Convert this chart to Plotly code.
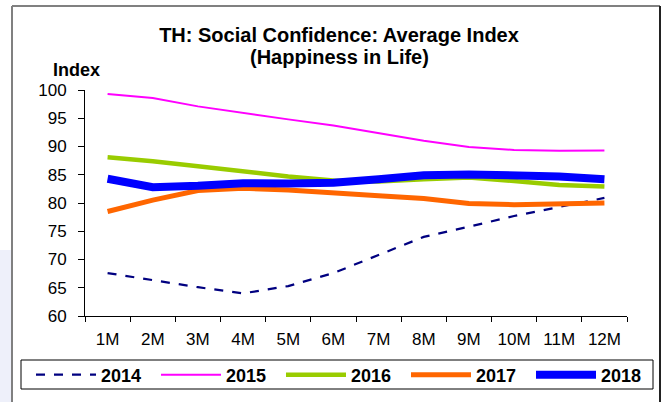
import plotly.graph_objects as go

W, H = 667, 402
L, R, T, B = 85, 40, 90, 86
PW, PH = W - L - R, H - T - B

months = ["1M", "2M", "3M", "4M", "5M", "6M", "7M", "8M", "9M", "10M", "11M", "12M"]
y2014 = [67.6, 66.3, 65.1, 64.0, 65.3, 67.6, 70.8, 74.0, 75.8, 77.7, 79.3, 80.9]
y2015 = [99.3, 98.6, 97.1, 95.9, 94.8, 93.7, 92.4, 91.0, 89.9, 89.4, 89.25, 89.3]
y2016 = [88.1, 87.4, 86.5, 85.6, 84.7, 84.0, 83.8, 84.2, 84.5, 83.9, 83.2, 82.9]
y2017 = [78.5, 80.5, 82.2, 82.6, 82.3, 81.9, 81.3, 80.8, 79.9, 79.7, 79.8, 80.0]
y2018 = [84.3, 82.8, 83.05, 83.5, 83.45, 83.6, 84.2, 84.9, 85.05, 85.0, 84.7, 84.2]
yticks = [60, 65, 70, 75, 80, 85, 90, 95, 100]

series = [
    ("2014", y2014, dict(color="#000080", width=2.2, dash="dash")),
    ("2015", y2015, dict(color="#FF00FF", width=2)),
    ("2016", y2016, dict(color="#99CC00", width=4.5)),
    ("2017", y2017, dict(color="#FF6600", width=5)),
    ("2018", y2018, dict(color="#0000FF", width=8)),
]

FONT = "Liberation Sans, Arial, sans-serif"

fig = go.Figure()
for name, ys, ln in series:
    fig.add_trace(go.Scatter(x=months, y=ys, name=name, mode="lines", line=ln))


def xp(px):
    return (px - L) / PW


def yp(py):
    return (H - B - py) / PH


shapes = [
    dict(type="rect", xref="paper", yref="paper", x0=xp(0), x1=xp(11), y0=yp(402), y1=yp(250),
         fillcolor="#eef0fa", line=dict(width=0), layer="below"),
    dict(type="line", xref="paper", yref="paper", x0=xp(12), x1=xp(12), y0=yp(6), y1=yp(410),
         line=dict(color="#808080", width=2)),
    dict(type="line", xref="paper", yref="paper", x0=xp(12), x1=xp(660), y0=yp(6), y1=yp(6),
         line=dict(color="#808080", width=2)),
    dict(type="line", xref="paper", yref="paper", x0=xp(660), x1=xp(660), y0=yp(6), y1=yp(410),
         line=dict(color="#222222", width=2)),
    # legend box
    dict(type="rect", xref="paper", yref="paper", x0=xp(21), x1=xp(653), y0=yp(389), y1=yp(360),
         line=dict(color="black", width=1), fillcolor="rgba(0,0,0,0)"),
]

fig.update_layout(
    width=W, height=H,
    margin=dict(l=L, r=R, t=T, b=B, autoexpand=False),
    paper_bgcolor="white", plot_bgcolor="white",
    font=dict(family=FONT, size=17, color="black"),
    title=dict(text="<b>TH: Social Confidence: Average Index</b>",
               x=339 / W, xanchor="center", xref="container",
               y=1 - 35 / H, yanchor="middle", yref="container",
               font=dict(size=20, family=FONT)),
    showlegend=True,
    legend=dict(orientation="h", x=xp(31), y=yp(375), xanchor="left", yanchor="middle",
                borderwidth=0, bgcolor="rgba(0,0,0,0)",
                entrywidth=50, font=dict(size=18, family=FONT, weight="bold"),
                itemwidth=60, tracegroupgap=0),
    shapes=shapes,
    annotations=[
        dict(text="<b>(Happiness in Life)</b>", xref="paper", yref="paper", x=xp(339), y=yp(57),
             xanchor="center", yanchor="middle", showarrow=False,
             font=dict(size=20, family=FONT)),
        dict(text="<b>Index</b>", xref="paper", yref="paper", x=xp(76), y=yp(70),
             xanchor="center", yanchor="middle", showarrow=False,
             font=dict(size=18, family=FONT)),
    ],
    xaxis=dict(type="category", range=[-0.5, len(months) - 0.5],
               tickson="boundaries", ticks="outside", ticklen=5,
               tickcolor="black", showline=True, linecolor="black", linewidth=1,
               showgrid=False, zeroline=False, tickfont=dict(size=17),
               ticklabelstandoff=8),
    yaxis=dict(range=[60, 100], tickvals=yticks, ticks="outside", ticklen=6,
               tickcolor="black", showline=True, linecolor="black", linewidth=1,
               showgrid=False, zeroline=False, tickfont=dict(size=17),
               ticklabelstandoff=8),
)

fig.write_html("out.html", config={"displayModeBar": False},
               post_script="document.body.style.margin='0';document.body.style.padding='0';")
